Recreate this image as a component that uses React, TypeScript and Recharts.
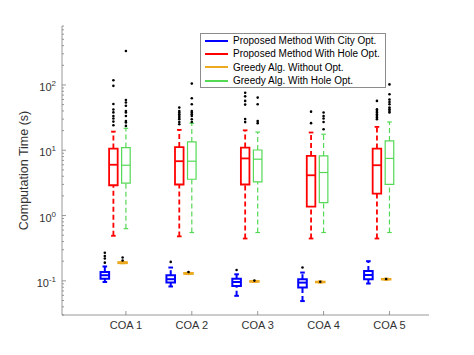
import React from "react"
import {
  ComposedChart,
  XAxis,
  YAxis,
  Scatter,
  ReferenceArea,
  ReferenceLine,
  Legend,
} from "recharts"

const categories = ["COA 1", "COA 2", "COA 3", "COA 4", "COA 5"]
const seriesNames = [
  "Proposed Method With City Opt.",
  "Proposed Method With Hole Opt.",
  "Greedy Alg. Without Opt.",
  "Greedy Alg. With Hole Opt.",
]
const seriesColors = ["#0000ff", "#ff0000", "#edaa20", "#55d955"]

// [lower whisker, q1, median, q3, upper whisker] for each COA
const cityStats = [
  [0.096, 0.108, 0.122, 0.137, 0.166],
  [0.082, 0.094, 0.106, 0.122, 0.16],
  [0.059, 0.0835, 0.096, 0.108, 0.126],
  [0.049, 0.079, 0.094, 0.106, 0.134],
  [0.091, 0.106, 0.123, 0.142, 0.2],
]
const cityOutliers = [[0.19, 0.22, 0.24, 0.27], [0.195], [0.147], [0.16], []]

const holeStats = [
  [0.49, 2.91, 6.0, 10.6, 19.3],
  [0.48, 2.99, 6.8, 11.2, 20.5],
  [0.445, 2.99, 7.5, 11, 20.2],
  [0.445, 1.37, 4.14, 8.2, 18.7],
  [0.445, 2.17, 5.9, 10.6, 22.8],
]
const holeOutliers = [
  [118, 97, 51, 42, 38, 33.5, 30.6, 27.5, 24.2],
  [45, 40, 37.8, 35.6, 33.5, 31.6, 29.8, 27.1, 25],
  [76, 67, 57, 50, 30, 27],
  [39, 26],
  [57, 42.4, 40, 37.8, 35.6, 33.5, 31.6, 29.8],
]

const greedyStats = [
  [0.186, 0.187, 0.19, 0.193, 0.195],
  [0.127, 0.128, 0.13, 0.132, 0.133],
  [0.096, 0.097, 0.098, 0.099, 0.1],
  [0.094, 0.095, 0.096, 0.097, 0.098],
  [0.104, 0.105, 0.106, 0.107, 0.108],
]
const greedyOutliers = [[0.205, 0.228], [0.137], [0.101], [0.097], [0.107]]

const greedyHoleStats = [
  [0.63, 3.13, 5.9, 11, 21.7],
  [0.55, 3.6, 6.8, 13.4, 25.9],
  [0.55, 3.27, 7.3, 10.1, 19],
  [0.55, 1.58, 4.56, 8.2, 17.6],
  [0.55, 3.0, 7.5, 13.9, 27.1],
]
const greedyHoleOutliers = [
  [331, 59, 54, 48, 40, 37.8, 33.5, 28, 26.6, 23.6],
  [105, 62.5, 50.6, 40, 37.8, 35.6, 33.5, 29.8, 27.1],
  [64, 50.6, 28, 26],
  [37.8, 33.5, 30.6, 27.1, 21],
  [102, 72, 60, 55, 50.6, 45, 42.4, 40, 37.8],
]

const allStats = [cityStats, holeStats, greedyStats, greedyHoleStats]
const allOutliers = [cityOutliers, holeOutliers, greedyOutliers, greedyHoleOutliers]

const decades = [0.1, 1, 10, 100]
const minorSteps = [2, 3, 4, 5, 6, 7, 8, 9]

const X_DOMAIN = [0.03, 5.6]
const Y_DOMAIN = [0.03, 800]
const offsets = [-0.32, -0.19, -0.05, 0]
const widths = [2, 1.8, 2, 1.2]
const BOX_HALF = 0.065
const CAP_HALF = 0.035

const FONT = "'Liberation Sans', Arial, Helvetica, sans-serif"
const AXIS = "#7f7f7f"
const TEXT = "#333"

const xTicks = categories.map((_, i) => i + 1)
const yTicks = [
  0.03, 0.04, 0.05, 0.06, 0.07, 0.08, 0.09,
  ...decades.flatMap((d) => [d, ...minorSteps.map((m) => +(d * m).toPrecision(3))]),
].filter((v) => v <= 800)

const isDecade = (v: number) => {
  const l = Math.log10(v)
  return Math.abs(l - Math.round(l)) < 1e-6
}

const LeftTick = ({ x, y, payload }: any) => {
  const v = payload.value
  const major = isDecade(v)
  return (
    <g>
      <line x1={x} x2={x + (major ? 4 : 2)} y1={y} y2={y} stroke={AXIS} strokeWidth={0.8} />
      {major && (
        <text x={x - 6} y={y + 6} textAnchor="end" fill={TEXT} fontSize={11} fontFamily={FONT}>
          10
          <tspan dy={-5} fontSize={8}>
            {Math.round(Math.log10(v))}
          </tspan>
        </text>
      )}
    </g>
  )
}

const RightTick = ({ x, y, payload }: any) => (
  <line x1={x} x2={x - (isDecade(payload.value) ? 4 : 2)} y1={y} y2={y} stroke={AXIS} strokeWidth={0.8} />
)

const BottomTick = ({ x, y, payload }: any) => (
  <g>
    <line x1={x} x2={x} y1={y} y2={y - 4} stroke={AXIS} strokeWidth={0.8} />
    <text x={x} y={y + 14} textAnchor="middle" fill={TEXT} fontSize={11} fontFamily={FONT}>
      {categories[payload.value - 1]}
    </text>
  </g>
)

const TopTick = ({ x, y }: any) => (
  <line x1={x} x2={x} y1={y} y2={y + 4} stroke={AXIS} strokeWidth={0.8} />
)

const YLabel = ({ viewBox }: any) => {
  const cx = 24
  const cy = viewBox.y + viewBox.height / 2
  return (
    <text
      x={cx}
      y={cy}
      transform={`rotate(-90, ${cx}, ${cy})`}
      textAnchor="middle"
      dominantBaseline="central"
      fill={TEXT}
      fontSize={12.5}
      fontFamily={FONT}
    >
      Computation Time (s)
    </text>
  )
}

const renderLegend = () => (
  <div
    style={{
      border: "1px solid #8c8c8c",
      background: "#fff",
      padding: "0 0 0 4px",
      boxSizing: "border-box",
      width: 186,
      height: 55,
      fontFamily: FONT,
      fontSize: 10,
      color: "#000",
    }}
  >
    {seriesNames.map((n, i) => (
      <div key={n} style={{ display: "flex", alignItems: "center", height: 13.3, whiteSpace: "nowrap" }}>
        <div style={{ width: 23, height: 2, background: seriesColors[i], marginRight: 5, flexShrink: 0 }} />
        <span>{n}</span>
      </div>
    ))}
  </div>
)

const Dot = (p: any) => <circle cx={p.cx} cy={p.cy} r={1.3} fill="#000" />

export default function App() {
  const boxes = allStats.flatMap((stats, s) =>
    stats.flatMap((st, i) => {
      const x = i + 1 + offsets[s]
      const [lo, q1, md, q3, hi] = st
      const common: any = {
        xAxisId: "x",
        yAxisId: "y",
        stroke: seriesColors[s],
        strokeWidth: widths[s],
        ifOverflow: "visible",
      }
      const k = `${s}-${i}`
      return [
        <ReferenceLine key={`wu${k}`} {...common} strokeDasharray="5 3" segment={[{ x, y: q3 }, { x, y: hi }]} />,
        <ReferenceLine key={`wl${k}`} {...common} strokeDasharray="5 3" segment={[{ x, y: lo }, { x, y: q1 }]} />,
        <ReferenceLine key={`cu${k}`} {...common} segment={[{ x: x - CAP_HALF, y: hi }, { x: x + CAP_HALF, y: hi }]} />,
        <ReferenceLine key={`cl${k}`} {...common} segment={[{ x: x - CAP_HALF, y: lo }, { x: x + CAP_HALF, y: lo }]} />,
        <ReferenceArea key={`b${k}`} {...common} x1={x - BOX_HALF} x2={x + BOX_HALF} y1={q1} y2={q3} fill="none" />,
        <ReferenceLine key={`m${k}`} {...common} segment={[{ x: x - BOX_HALF, y: md }, { x: x + BOX_HALF, y: md }]} />,
      ]
    })
  )

  return (
    <div style={{ position: "absolute", left: 0, top: 0, background: "#fff" }}>
      <ComposedChart width={474} height={355} margin={{ top: 26, right: 45, bottom: 0, left: 0 }}>
        <XAxis
          xAxisId="x"
          dataKey="x"
          type="number"
          domain={X_DOMAIN}
          allowDataOverflow
          ticks={xTicks}
          interval={0}
          height={40}
          tickSize={0}
          tickMargin={0}
          tick={BottomTick}
          axisLine={{ stroke: AXIS, strokeWidth: 0.8 }}
        />
        <XAxis
          xAxisId="xt"
          orientation="top"
          type="number"
          domain={X_DOMAIN}
          allowDataOverflow
          ticks={xTicks}
          interval={0}
          height={0}
          tickSize={0}
          tickMargin={0}
          tick={TopTick}
          axisLine={{ stroke: AXIS, strokeWidth: 0.8 }}
        />
        <YAxis
          yAxisId="y"
          dataKey="y"
          type="number"
          scale="log"
          domain={Y_DOMAIN}
          allowDataOverflow
          ticks={yTicks}
          interval={0}
          width={62}
          tickSize={0}
          tickMargin={0}
          tick={LeftTick}
          axisLine={{ stroke: AXIS, strokeWidth: 0.8 }}
          label={{ content: YLabel }}
        />
        <YAxis
          yAxisId="yr"
          orientation="right"
          type="number"
          scale="log"
          domain={Y_DOMAIN}
          allowDataOverflow
          ticks={yTicks}
          interval={0}
          width={0}
          tickSize={0}
          tickMargin={0}
          tick={RightTick}
          axisLine={{ stroke: AXIS, strokeWidth: 0.8 }}
        />
        {boxes}
        {allOutliers.map((outs, s) => (
          <Scatter
            key={seriesNames[s]}
            name={seriesNames[s]}
            xAxisId="x"
            yAxisId="y"
            data={outs.flatMap((vals, i) => vals.map((v) => ({ x: i + 1 + offsets[s], y: v })))}
            shape={Dot}
            isAnimationActive={false}
          />
        ))}
        <Legend
          layout="horizontal"
          verticalAlign="middle"
          align="center"
          content={renderLegend}
          wrapperStyle={{ top: 33, left: 200, width: 186, height: 55 }}
        />
      </ComposedChart>
    </div>
  )
}
